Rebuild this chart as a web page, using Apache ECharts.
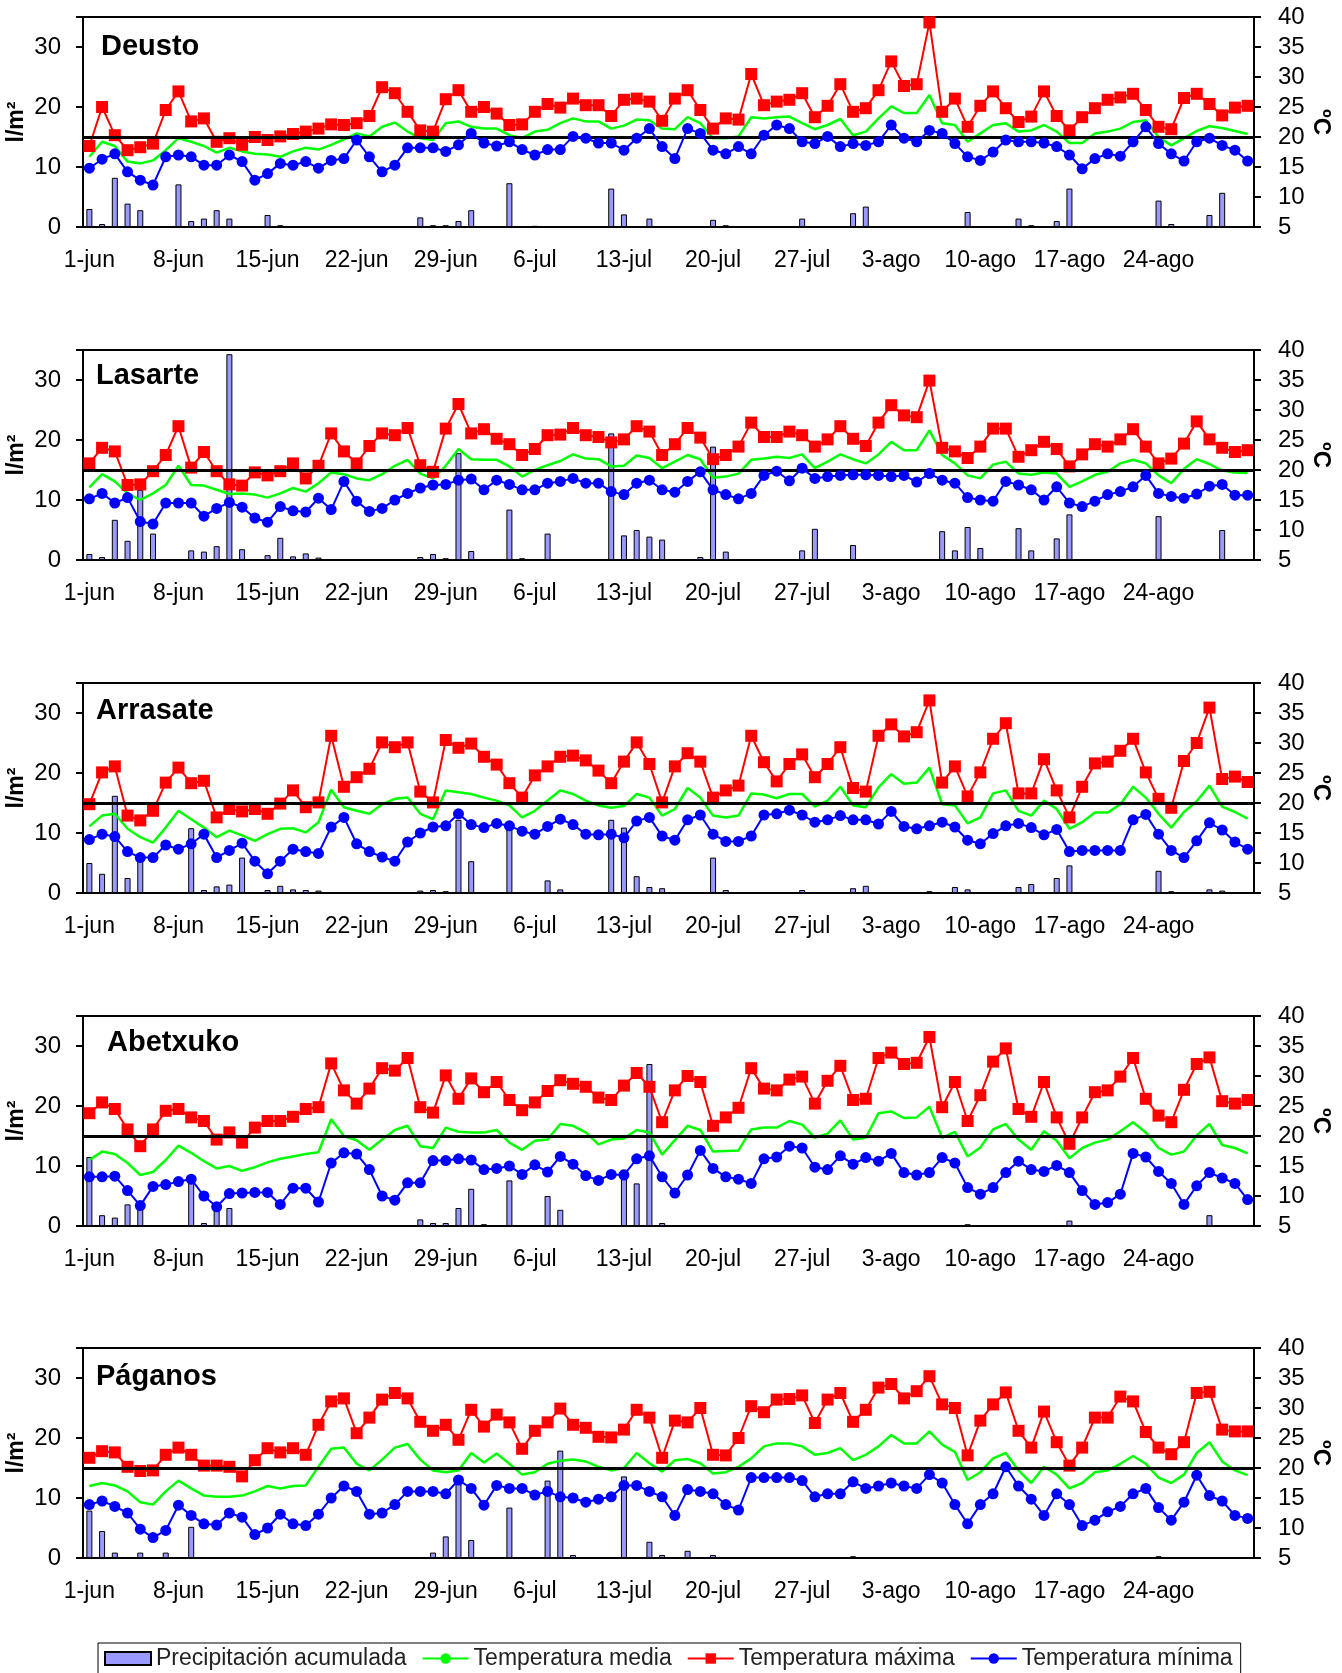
<!DOCTYPE html>
<html><head><meta charset="utf-8">
<script src="https://cdn.jsdelivr.net/npm/echarts@6/dist/echarts.min.js"></script>
<style>html,body{margin:0;padding:0;background:#fff;overflow:hidden}#c{width:1342px;height:1673px}</style>
</head><body><div id="c"></div>
<script>
// ---------- categories ----------
const monthNames = ['jun', 'jul', 'ago'];
const monthLengths = [30, 31, 31];
const days = [];
monthNames.forEach((m, k) => { for (let d = 1; d <= monthLengths[k]; d++) days.push(d + '-' + m); });
const stationNames = ['Deusto', 'Lasarte', 'Arrasate', 'Abetxuko', 'Páganos'];
const leftTicks = [0, 10, 20, 30];
const rightTicks = [5, 10, 15, 20, 25, 30, 35, 40];

// ---------- Deusto ----------
const deustoPrecip = [
3.0,0.5,8.2,3.9,2.8,0,0,7.1,1.0,1.4,
2.8,1.4,0,0,2.0,0.3,0,0,0,0,
0,0,0,0,0,0,1.6,0.3,0.3,1.0,
2.8,0,0,7.3,0,0.2,0,0,0,0,
0,6.4,2.1,0,1.4,0,0,0,0,1.2,
0.3,0,0,0,0,0,1.4,0,0,0,
2.3,3.4,0,0,0,0,0,0,0,2.5,
0,0,0,1.4,0.3,0,1.0,6.4,0,0,
0,0,0,0,4.4,0.5,0,0,2.0,5.7,
0,0];
const deustoTmax = [
18.5,25.0,20.3,17.8,18.3,18.9,24.5,27.6,22.6,23.1,
19.2,19.8,18.7,20.0,19.5,20.1,20.5,20.9,21.4,22.1,
22.0,22.3,23.5,28.3,27.3,24.2,21.1,20.9,26.3,27.8,
24.2,25.0,23.9,22.0,22.1,24.2,25.5,24.9,26.4,25.3,
25.3,23.5,26.2,26.4,25.9,22.7,26.4,27.8,24.5,21.4,
23.1,22.9,30.5,25.3,25.9,26.2,27.3,23.3,25.2,28.8,
24.2,24.8,27.8,32.6,28.5,28.8,39.1,24.2,26.4,21.7,
25.2,27.6,24.8,22.5,23.4,27.6,23.5,21.1,23.3,24.8,
26.2,26.6,27.2,24.5,21.7,21.3,26.5,27.2,25.5,23.6,
24.9,25.2];
const deustoTmed = [
16.7,19.2,18.5,15.9,15.6,16.1,17.8,19.8,19.2,18.5,
17.4,18.2,17.6,17.2,17.1,16.7,17.6,18.2,17.9,18.7,
19.6,20.6,20.1,21.7,22.4,20.9,19.8,19.5,22.3,22.6,
21.7,21.4,21.4,20.3,19.8,20.9,21.2,22.3,23.1,22.6,
22.6,21.4,21.9,22.9,22.8,21.4,21.3,23.3,22.3,19.8,
19.8,20.1,23.3,23.1,23.3,23.4,22.3,21.3,22.0,23.0,
20.3,20.9,23.1,25.1,24.0,24.0,27.0,22.3,22.0,19.2,
20.6,22.0,22.3,20.9,21.1,22.0,20.9,19.0,19.0,20.6,
20.9,21.4,22.5,22.8,20.0,18.6,19.8,21.0,21.8,21.5,
21.0,20.5];
const deustoTmin = [
14.8,16.3,17.2,14.2,12.8,12.0,16.7,17.0,16.7,15.3,
15.3,17.0,15.9,12.8,13.9,15.6,15.3,15.9,14.8,16.1,
16.4,19.5,16.7,14.2,15.3,18.2,18.2,18.2,17.6,18.7,
20.6,19.0,18.5,19.2,17.9,17.0,17.9,17.9,20.1,19.8,
19.0,19.0,17.8,19.8,21.4,18.4,16.4,21.4,20.6,17.8,
17.2,18.4,17.2,20.3,22.0,21.4,19.2,18.9,20.1,18.4,
18.9,18.6,19.2,22.0,19.8,19.2,21.1,20.6,18.9,16.7,
16.1,17.5,19.5,19.2,19.2,19.0,18.4,17.0,14.7,16.4,
17.2,16.8,19.2,21.7,18.9,17.2,16.0,19.2,19.8,18.6,
17.8,16.0];

// ---------- Lasarte ----------
const lasartePrecip = [
1.0,0.5,6.7,3.2,11.7,4.4,0,0,1.6,1.4,
2.3,34.3,1.8,0,0.8,3.7,0.6,1.1,0.4,0,
0,0,0,0,0,0,0.5,1.0,0.3,17.8,
1.5,0,0,8.4,0.3,0,4.4,0,0,0,
0,21.1,4.1,5.0,3.9,3.4,0,0,0.5,18.9,
1.4,0,0,0,0,0,1.6,5.2,0,0,
2.5,0,0,0,0,0,0,4.8,1.6,5.5,
2.0,0,0,5.3,1.6,0,3.6,7.6,0,0,
0,0,0,0,7.3,0,0,0,0,5.0,
0,0];
const lasarteTmax = [
21.1,23.7,23.1,17.5,17.6,19.8,22.5,27.3,20.4,23.0,
19.8,17.6,17.4,19.6,19.1,19.8,21.1,18.6,20.7,26.1,
23.1,21.1,24.0,26.1,25.8,27.0,20.8,19.7,26.9,31.0,
26.1,26.8,25.2,24.3,22.5,23.5,25.8,25.9,27.0,25.8,
25.5,24.6,25.1,27.3,26.4,22.5,24.3,27.0,25.4,21.8,
22.5,23.9,27.9,25.5,25.5,26.4,25.8,23.9,25.1,27.3,
25.2,24.0,27.9,30.8,29.1,28.8,34.9,23.7,23.1,22.0,
23.9,26.9,26.9,22.2,23.3,24.7,23.5,20.6,22.6,24.3,
23.9,25.1,26.8,23.9,21.1,21.9,24.4,28.1,25.1,23.7,
23.0,23.3];
const lasarteTmed = [
17.1,19.3,18.1,16.1,15.0,16.1,17.5,20.7,17.5,17.4,
16.7,16.0,16.1,15.9,15.4,16.1,17.0,16.4,17.8,19.6,
19.3,18.6,18.3,19.3,20.7,21.7,19.4,18.6,20.7,23.5,
21.8,21.7,21.7,20.6,18.9,20.0,20.8,21.5,22.6,21.9,
21.8,20.6,20.7,22.4,22.0,20.3,21.4,22.5,21.8,18.7,
18.9,19.4,21.7,21.9,22.2,22.0,22.6,20.3,21.4,22.6,
21.8,21.1,22.6,24.7,23.3,23.3,26.6,22.5,21.1,19.1,
18.6,20.9,21.4,19.4,19.2,19.6,19.4,17.2,18.1,19.2,
19.7,21.1,21.7,21.1,19.1,17.8,20.2,21.8,21.0,19.9,
19.6,19.5];
const lasarteTmin = [
15.2,16.1,14.5,15.4,11.4,11.0,14.5,14.5,14.5,12.3,
13.6,14.6,13.8,12.0,11.3,13.9,13.2,13.0,15.3,13.4,
18.1,14.8,13.1,13.6,15.0,16.1,17.0,17.5,17.6,18.3,
18.5,16.7,18.3,17.6,16.7,16.7,17.8,18.1,18.6,17.8,
17.8,16.4,15.9,17.8,18.3,16.7,16.3,18.1,19.7,16.7,
15.9,15.2,16.1,19.1,19.8,18.2,20.3,18.6,18.9,19.1,
19.2,19.2,19.1,18.9,19.1,18.0,19.4,18.3,17.8,15.4,
15.0,14.8,18.1,17.5,16.7,15.0,17.2,14.5,13.9,14.8,
15.9,16.4,17.2,19.1,16.1,15.6,15.3,16.0,17.3,17.6,
15.8,15.8];

// ---------- Arrasate ----------
const arrasatePrecip = [
5.0,3.2,16.2,2.5,6.4,0,0,0,10.8,0.5,
1.1,1.4,5.9,0,0.5,1.2,0.6,0.5,0.4,0,
0,0,0,0,0,0,0.4,0.5,0.3,12.2,
5.3,0,0,10.9,0,0,2.1,0.6,0,0,
0,12.2,10.9,2.8,1.0,0.8,0,0,0,5.9,
0.5,0,0,0,0,0,0.5,0,0,0,
0.8,1.2,0,0,0,0,0.3,0,1.0,0.6,
0,0,0,1.0,1.5,0,2.5,4.6,0,0,
0,0,0,0,3.7,0.3,0,0,0.6,0.4,
0,0];
const arrasateTmax = [
19.8,25.1,26.1,17.9,17.1,18.7,23.4,25.9,23.3,23.7,
17.6,19.0,18.6,19.0,18.2,19.9,22.1,19.3,20.1,31.2,
22.7,24.3,25.7,30.1,29.3,30.1,21.9,20.1,30.5,29.2,
29.9,27.7,26.4,23.3,20.9,24.6,26.1,27.7,27.9,27.1,
25.4,23.3,26.9,30.1,26.5,20.1,26.1,28.3,26.9,20.9,
22.1,22.9,31.2,26.8,23.6,26.5,28.1,24.3,26.5,29.3,
22.5,21.9,31.2,33.1,31.1,31.8,37.1,23.4,26.1,21.1,
25.1,30.7,33.3,21.6,21.6,27.3,22.1,17.6,22.7,26.6,
26.9,28.7,30.7,25.1,20.7,19.2,27.0,30.0,35.9,24.0,
24.4,23.5];
const arrasateTmed = [
16.1,17.9,18.2,15.7,14.3,13.4,15.9,18.7,17.3,15.9,
14.3,15.4,14.6,13.7,14.8,15.7,15.8,15.1,16.8,22.2,
19.3,18.7,18.2,19.8,20.7,20.9,18.2,17.3,22.1,21.8,
21.5,20.9,20.4,19.6,17.6,18.7,20.4,22.1,21.5,20.4,
19.6,19.2,19.5,21.5,20.9,17.9,19.0,22.5,20.9,17.9,
17.6,17.9,21.6,21.4,20.8,21.5,21.5,19.4,20.4,22.7,
19.6,19.3,22.6,24.8,23.2,23.4,25.9,19.8,19.6,16.6,
17.6,21.6,22.1,18.7,17.9,20.4,19.0,15.7,16.8,18.4,
18.4,19.8,22.7,20.9,18.2,15.9,18.5,20.3,22.9,19.4,
18.5,17.4];
const arrasateTmin = [
13.9,14.8,14.4,11.9,10.9,10.9,13.0,12.3,13.2,14.8,
10.9,12.1,13.3,10.3,8.2,10.3,12.3,11.9,11.6,16.0,
17.6,13.2,11.9,11.0,10.3,13.5,15.0,16.0,16.2,18.2,
16.4,15.9,16.6,16.2,15.3,14.8,16.1,17.3,16.4,14.8,
14.7,14.8,14.2,17.0,17.6,14.5,13.8,17.2,18.0,14.8,
13.6,13.6,14.5,18.0,18.2,18.8,18.0,16.8,17.2,17.9,
17.2,17.2,16.5,18.6,16.1,15.7,16.2,16.8,16.0,13.8,
13.2,14.9,16.2,16.6,15.9,14.7,15.6,11.9,12.1,12.1,
12.1,12.1,17.2,18.1,14.8,12.1,10.9,13.7,16.7,15.5,
13.5,12.3];

// ---------- Abetxuko ----------
const abetxukoPrecip = [
11.5,1.8,1.4,3.6,4.1,0,0,0,8.0,0.5,
3.6,3.0,0,0,0,0,0,0,0,0,
0,0,0,0,0,0,1.1,0.5,0.5,3.0,
6.2,0.3,0,7.6,0,0,5.0,2.7,0,0,
0,0,9.4,7.1,27.0,0.5,0,0,0,0,
0,0,0,0,0,0,0,0,0,0,
0,0,0,0,0,0,0,0,0,0.3,
0,0,0,0,0,0,0,0.9,0,0,
0,0,0,0,0,0,0,0,1.8,0,
0,0];
const abetxukoTmax = [
23.8,25.6,24.5,21.1,18.3,21.1,24.2,24.5,23.1,22.5,
19.4,20.6,18.9,21.4,22.5,22.5,23.2,24.5,24.8,32.1,
27.6,25.4,27.9,31.3,30.9,33.0,24.8,23.9,30.1,26.2,
29.6,27.3,29.0,26.0,24.3,25.6,27.5,29.3,28.7,28.2,
26.4,26.0,28.4,30.5,28.2,22.3,27.6,30.0,29.0,21.7,
23.1,24.7,31.3,27.9,27.6,29.4,29.9,25.4,29.2,31.7,
26.0,26.2,33.0,33.9,32.0,32.2,36.5,24.8,29.0,22.5,
26.8,32.4,34.6,24.5,23.2,29.0,23.1,18.7,23.1,27.3,
27.6,29.9,33.0,26.2,23.4,22.3,27.7,32.0,33.1,25.8,
25.4,26.0];
const abetxukoTmed = [
16.0,17.4,17.0,15.5,13.5,14.0,16.0,18.4,17.2,15.8,
14.6,15.0,14.2,14.8,15.6,16.2,16.6,17.0,17.3,22.8,
20.0,19.3,17.7,19.4,21.0,21.7,18.3,18.0,21.4,20.7,
20.6,20.6,21.0,18.9,17.7,19.2,19.4,22.0,21.7,20.6,
18.6,19.4,19.6,21.0,20.6,16.9,19.3,21.7,21.0,17.4,
17.5,17.6,21.1,21.4,21.4,22.5,21.9,19.7,20.4,22.6,
19.4,19.7,23.8,24.1,23.0,23.1,24.9,19.7,20.7,16.6,
18.1,21.1,22.0,19.4,17.7,20.8,19.2,16.3,18.0,18.9,
19.4,20.8,22.3,20.6,18.0,16.9,17.4,20.1,22.0,18.5,
18.0,17.1];
const abetxukoTmin = [
13.2,13.2,13.3,10.9,8.4,11.6,11.9,12.4,12.8,10.0,
8.2,10.4,10.5,10.6,10.6,8.6,11.3,11.3,9.0,15.5,
17.2,17.0,14.4,10.0,9.3,12.2,12.2,15.9,15.9,16.2,
16.0,14.4,14.6,15.0,13.6,15.2,14.0,16.6,15.3,13.4,
12.6,13.6,13.5,16.2,16.7,13.2,10.5,13.5,17.6,14.6,
13.2,12.8,12.1,16.2,16.5,18.3,18.0,14.8,14.4,16.7,
15.3,16.4,15.8,17.1,13.9,13.5,13.9,16.4,15.5,11.4,
10.3,11.4,13.9,15.8,14.4,14.1,15.1,13.9,10.9,8.6,
8.9,10.3,17.1,16.5,14.1,12.1,8.6,11.7,13.9,13.0,
12.1,9.4];

// ---------- Páganos ----------
const paganosPrecip = [
7.9,4.5,0.9,0,0.9,0,0.9,0,5.2,0,
0,0,0,0,0,0,0,0,0,0,
0,0,0,0,0,0,0,0.9,3.6,13.7,
3.0,0,0,8.4,0,0,12.9,17.9,0.5,0,
0,0,13.6,0,2.7,0.5,0,1.2,0,0.5,
0,0,0,0,0,0,0,0,0,0,
0.3,0,0,0,0,0,0,0,0,0,
0,0,0,0,0,0,0,0,0,0,
0,0,0,0,0.3,0,0,0,0,0,
0,0];
const paganosTmax = [
21.7,22.8,22.6,20.2,19.5,19.6,22.2,23.4,22.2,20.4,
20.4,20.2,18.6,21.3,23.3,22.6,23.3,22.2,27.2,31.1,
31.6,25.8,28.4,31.4,32.5,31.6,27.7,26.2,27.2,24.7,
29.7,26.9,28.9,27.6,23.2,26.2,27.6,29.9,27.2,26.7,
25.2,25.1,26.4,29.7,28.4,21.7,27.9,27.6,30.0,22.2,
22.1,25.0,30.3,29.3,31.4,31.5,32.1,27.5,31.4,32.5,
27.7,29.7,33.4,34.0,31.6,32.8,35.3,30.6,30.0,22.1,
27.9,30.6,32.6,26.2,23.4,29.4,24.3,20.4,23.4,28.4,
28.4,31.9,31.1,26.0,23.4,22.3,24.3,32.5,32.7,26.4,
26.1,26.1];
const paganosTmed = [
17.0,17.5,17.1,16.1,14.3,13.9,16.1,17.9,16.6,15.4,
15.2,15.2,15.4,16.1,17.0,16.6,17.0,17.1,20.2,23.2,
23.4,20.7,19.6,21.4,23.4,24.0,21.4,19.6,19.3,19.6,
22.5,20.9,22.4,20.7,18.9,19.3,20.7,21.2,21.4,21.1,
20.2,19.6,20.0,22.5,20.8,19.4,21.3,21.5,20.8,19.1,
19.3,20.2,21.6,23.6,24.1,24.1,23.6,22.2,22.5,23.3,
21.3,22.2,23.6,25.5,24.1,24.1,26.1,23.9,22.7,18.0,
19.3,21.6,22.5,19.6,17.5,20.2,18.9,16.6,17.5,19.3,
19.6,20.7,22.0,20.7,18.4,17.5,18.9,22.5,24.3,21.1,
19.6,18.8];
const paganosTmin = [
13.9,14.5,13.6,12.5,9.8,8.4,9.6,13.8,12.1,10.7,
10.5,12.5,11.8,8.9,10.0,12.3,10.7,10.4,12.3,15.0,
17.0,16.1,12.3,12.5,13.9,16.1,16.1,16.1,15.7,18.0,
16.6,13.8,17.1,16.6,16.6,15.5,16.1,15.2,15.0,14.3,
14.8,15.2,17.1,17.1,16.1,15.2,12.1,16.4,16.1,15.7,
13.9,13.0,18.4,18.4,18.4,18.4,17.9,15.2,15.7,15.7,
17.7,16.6,17.0,17.5,17.0,16.6,18.9,17.5,13.9,10.7,
13.9,15.7,20.2,17.0,14.8,12.1,15.7,13.9,10.4,11.3,
12.7,13.6,15.7,16.6,13.4,11.3,14.3,18.8,15.4,14.5,
12.1,11.6];

const precipSets = [deustoPrecip, lasartePrecip, arrasatePrecip, abetxukoPrecip, paganosPrecip];
const tmedSets = [deustoTmed, lasarteTmed, arrasateTmed, abetxukoTmed, paganosTmed];
const tmaxSets = [deustoTmax, lasarteTmax, arrasateTmax, abetxukoTmax, paganosTmax];
const tminSets = [deustoTmin, lasarteTmin, arrasateTmin, abetxukoTmin, paganosTmin];
const referencePrecip = 15; // horizontal reference line (left axis) = 20 ºC on right axis

// ---------- layout / style ----------
const FONT = "'Liberation Sans',Arial,sans-serif";
const tops = [17, 350, 683, 1016, 1348];
const titleLeft = [101, 96, 96, 107, 96];
const titleOffset = [15, 11, 13, 12, 14];
const PH = 210;

const chart = echarts.init(document.getElementById('c'));
const option = {
  animation: false,
  backgroundColor: '#fff',
  textStyle: { fontFamily: FONT },
  title: stationNames.map((n, i) => ({
    text: n, left: titleLeft[i], top: tops[i] + titleOffset[i], padding: 0,
    textStyle: { fontFamily: FONT, fontWeight: 'bold', fontSize: 29, color: '#000' }
  })),
  legend: {
    left: 98, top: 1643, itemWidth: 46, itemHeight: 13, itemGap: 15,
    padding: [4, 8, 4, 6], borderColor: '#000', borderWidth: 1,
    textStyle: { fontFamily: FONT, fontSize: 23, color: '#222' },
    data: [{ name: 'Precipitación acumulada', icon: 'rect' }, 'Temperatura media', 'Temperatura máxima', 'Temperatura mínima']
  },
  grid: tops.map(t => ({ left: 83, right: 88, top: t, height: PH, show: true, borderColor: '#000', borderWidth: 2,
    containLabel: false, outerBoundsMode: 'none' })),
  xAxis: tops.map((t, i) => ({
    type: 'category', gridIndex: i, data: days, boundaryGap: true,
    axisLine: { lineStyle: { color: '#000', width: 2 } },
    axisTick: { interval: 0, length: 6, lineStyle: { color: '#000', width: 1 } },
    axisLabel: { interval: idx => idx % 7 === 0 && idx <= 84, color: '#000', fontSize: 23, margin: 22, fontFamily: FONT }
  })),
  yAxis: [],
  series: []
};
tops.forEach((t, i) => {
  option.yAxis.push({
    type: 'value', gridIndex: i, position: 'left', min: leftTicks[0], max: 35, interval: leftTicks[1] - leftTicks[0],
    name: 'l/m²', nameLocation: 'middle', nameGap: 55, nameRotate: 90, nameMoveOverlap: false,
    nameTextStyle: { fontFamily: FONT, fontWeight: 'bold', fontSize: 23, color: '#000' },
    axisLine: { show: true, lineStyle: { color: '#000', width: 2 } },
    axisTick: { show: true, length: 7, lineStyle: { color: '#000', width: 2 } },
    splitLine: { show: false },
    axisLabel: { color: '#000', fontSize: 24, margin: 22, fontFamily: FONT,
      formatter: v => leftTicks.includes(v) ? String(v) : '' }
  });
  option.yAxis.push({
    type: 'value', gridIndex: i, position: 'right', min: rightTicks[0], max: rightTicks[rightTicks.length - 1], interval: rightTicks[1] - rightTicks[0],
    name: 'ºC', nameLocation: 'middle', nameGap: 55, nameRotate: -90, nameMoveOverlap: false,
    nameTextStyle: { fontFamily: FONT, fontWeight: 'bold', fontSize: 24, color: '#000' },
    axisLine: { show: true, lineStyle: { color: '#000', width: 2 } },
    axisTick: { show: true, length: 7, lineStyle: { color: '#000', width: 2 } },
    splitLine: { show: false },
    axisLabel: { color: '#000', fontSize: 24, margin: 24, fontFamily: FONT }
  });
  option.series.push({
    name: 'Precipitación acumulada', type: 'bar', xAxisIndex: i, yAxisIndex: 2 * i,
    data: precipSets[i], barWidth: 6, z: 2,
    itemStyle: { color: '#9999FF', borderColor: '#000', borderWidth: 1 },
    markLine: { silent: true, symbol: ['none', 'none'], label: { show: false },
      lineStyle: { color: '#000', width: 3, type: 'solid' }, data: [{ yAxis: referencePrecip }] }
  });
  option.series.push({
    name: 'Temperatura media', type: 'line', xAxisIndex: i, yAxisIndex: 2 * i + 1,
    data: tmedSets[i], symbol: 'none', z: 3,
    lineStyle: { color: '#00FF00', width: 2.5 }, itemStyle: { color: '#00FF00' }
  });
  option.series.push({
    name: 'Temperatura máxima', type: 'line', xAxisIndex: i, yAxisIndex: 2 * i + 1,
    data: tmaxSets[i], symbol: 'rect', symbolSize: 12, showAllSymbol: true, z: 4,
    lineStyle: { color: '#FF0000', width: 2 }, itemStyle: { color: '#FF0000' }
  });
  option.series.push({
    name: 'Temperatura mínima', type: 'line', xAxisIndex: i, yAxisIndex: 2 * i + 1,
    data: tminSets[i], symbol: 'circle', symbolSize: 11, showAllSymbol: true, z: 5,
    lineStyle: { color: '#0000FF', width: 2 }, itemStyle: { color: '#0000FF' }
  });
});
chart.setOption(option);
</script>
</body></html>
